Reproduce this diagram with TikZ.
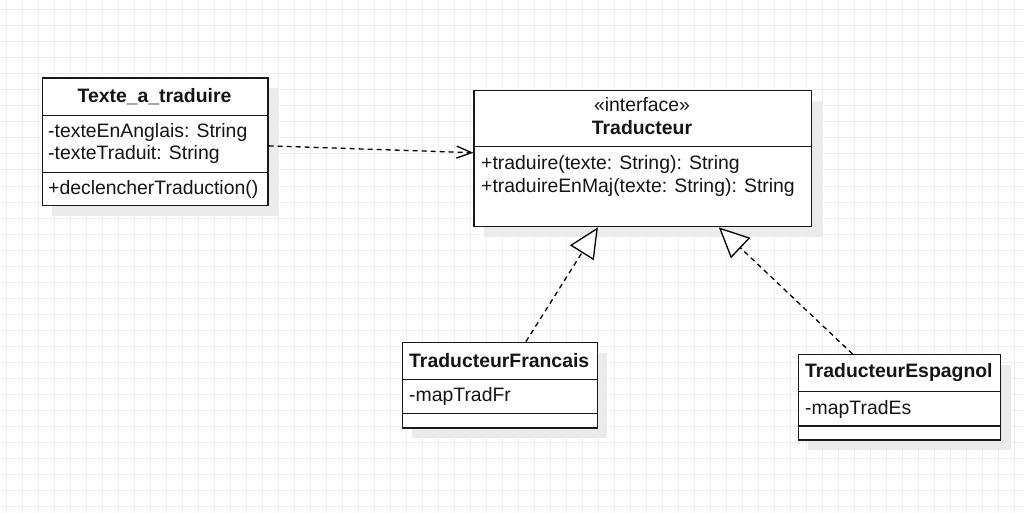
\documentclass[tikz,border=0pt]{standalone}
\usepackage{fontspec}
\setmainfont{Liberation Sans}
\usetikzlibrary{arrows.meta,calc}
\definecolor{gridc}{HTML}{EEEEEE}
\definecolor{shadowc}{HTML}{EBEBEB}
\definecolor{txtc}{HTML}{141414}
\tikzset{
  cls/.style={draw=black!90, line width=1.4pt, fill=white, anchor=north west, inner sep=0pt},
  shade box/.style={fill=shadowc, draw=none},
  divider/.style={draw=black!90, line width=1.4pt},
  ttl/.style={font=\fontsize{19.4}{22}\selectfont\bfseries, text=txtc, inner sep=0pt},
  stereo/.style={font=\fontsize{19.4}{22}\selectfont, text=txtc, inner sep=0pt},
  mbr/.style={font=\fontsize{19.4}{22}\selectfont, text=txtc, inner sep=0pt, anchor=base west, align=left},
  dep/.style={line width=1.3pt, dash pattern=on 5pt off 4pt, -{Straight Barb[length=15pt,width=12pt,line width=1.3pt]}},
  real/.style={line width=1.3pt, dash pattern=on 5pt off 4pt, -{Triangle[open,length=30pt,width=28pt,line width=1.3pt,fill=white]}}
}
\begin{document}
\begin{tikzpicture}[x=1pt,y=-1pt]
\useasboundingbox (0,0) rectangle (1024,513);
\fill[white] (0,0) rectangle (1024,513);
% grid
\foreach \gx in {6,22,...,1022} \draw[gridc, line width=1pt] (\gx,0) -- (\gx,513);
\foreach \gy in {10,26,...,512} \draw[gridc, line width=1pt] (0,\gy) -- (1024,\gy);

% shadows
\fill[shade box] (52,88) rectangle (278,216);
\fill[shade box] (484,101) rectangle (822,237);
\fill[shade box] (412,353) rectangle (607,438);
\fill[shade box] (808,365) rectangle (1011,450);

% Texte_a_traduire
\node[cls, minimum width=225.6pt, minimum height=127.7pt] (texte) at (41.7,77.3) {};
\draw[divider] (41.7,115.7) -- (267.3,115.7);
\draw[divider] (41.7,172.7) -- (267.3,172.7);
\node[ttl] (texteT) at (154.5,97) {Texte\_a\_traduire};
\node[mbr] (texteA1) at (48,138) {-texteEnAnglais: String};
\node[mbr] (texteA2) at (48,160) {-texteTraduit: String};
\node[mbr] (texteM1) at (48,194) {+declencherTraduction()};

% Traducteur
\node[cls, minimum width=337.7pt, minimum height=136pt] (trad) at (473.3,90) {};
\draw[divider] (473.3,146.7) -- (811,146.7);
\node[stereo] (tradS) at (642,105) {«interface»};
\node[ttl] (tradT) at (642,127.5) {Traducteur};
\node[mbr] (tradM1) at (481,169) {+traduire(texte: String): String};
\node[mbr] (tradM2) at (481,192) {+traduireEnMaj(texte: String): String};

% TraducteurFrancais
\node[cls, minimum width=195pt, minimum height=85.6pt] (fr) at (401.7,341.7) {};
\draw[divider] (401.7,379.3) -- (596.7,379.3);
\draw[divider] (401.7,413.3) -- (596.7,413.3);
\node[ttl] (frT) at (499.2,360.5) {TraducteurFrancais};
\node[mbr] (frA1) at (409,401.5) {-mapTradFr};

% TraducteurEspagnol
\node[cls, minimum width=202.3pt, minimum height=85.3pt] (es) at (797.7,354) {};
\draw[divider] (797.7,391.7) -- (1000,391.7);
\draw[divider] (797.7,426) -- (1000,426);
\node[ttl] (esT) at (898.8,373) {TraducteurEspagnol};
\node[mbr] (esA1) at (805,414) {-mapTradEs};

% connectors
\draw[dep] ([yshift=-4pt]texte.east) -- ([yshift=6pt]trad.west);
\draw[real] ([xshift=26pt]fr.north) -- ([xshift=-45pt]trad.south);
\draw[real] ([xshift=-47pt]es.north) -- ([xshift=76pt]trad.south);
\end{tikzpicture}
\end{document}
